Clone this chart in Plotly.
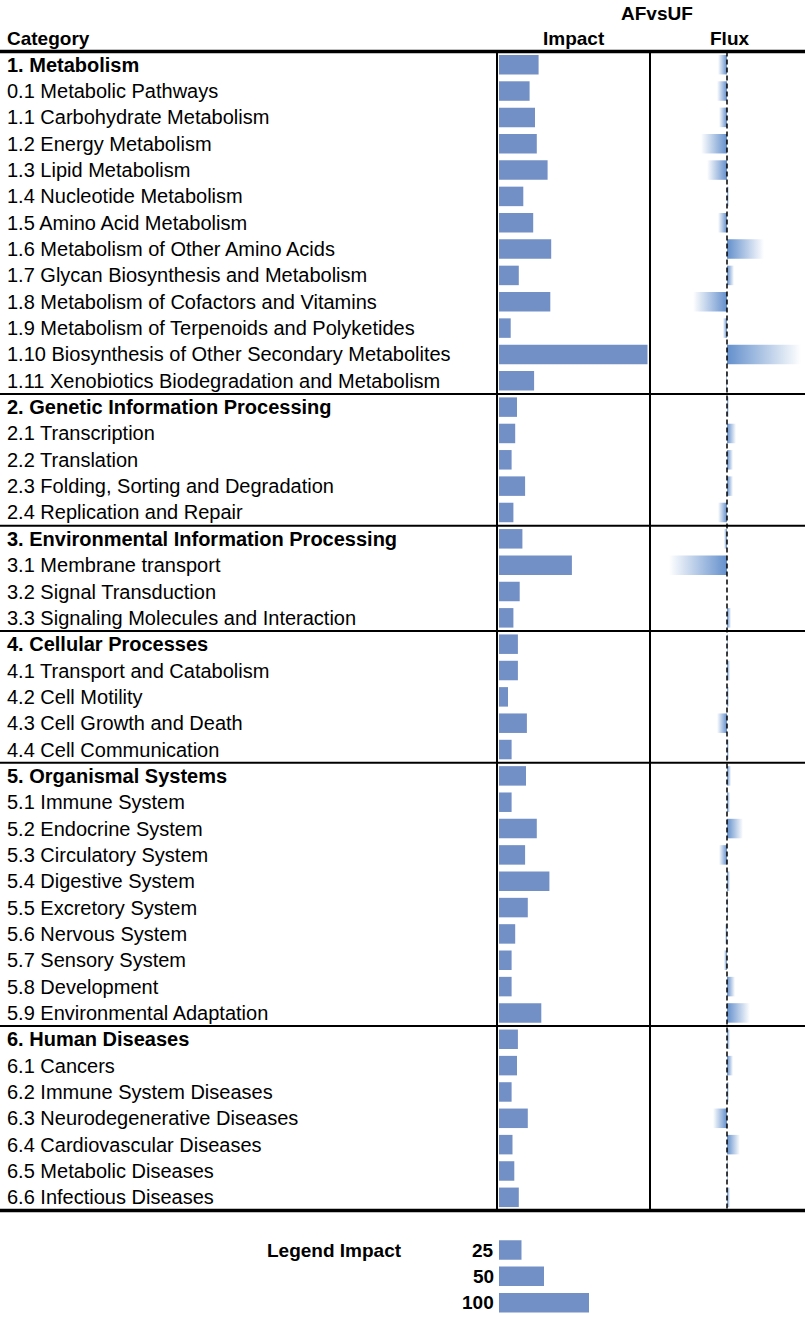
import re

import plotly.graph_objects as go

categories = [
    "1. Metabolism",
    "0.1 Metabolic Pathways",
    "1.1 Carbohydrate Metabolism",
    "1.2 Energy Metabolism",
    "1.3 Lipid Metabolism",
    "1.4 Nucleotide Metabolism",
    "1.5 Amino Acid Metabolism",
    "1.6 Metabolism of Other Amino Acids",
    "1.7 Glycan Biosynthesis and Metabolism",
    "1.8 Metabolism of Cofactors and Vitamins",
    "1.9 Metabolism of Terpenoids and Polyketides",
    "1.10 Biosynthesis of Other Secondary Metabolites",
    "1.11 Xenobiotics Biodegradation and Metabolism",
    "2. Genetic Information Processing",
    "2.1 Transcription",
    "2.2 Translation",
    "2.3 Folding, Sorting and Degradation",
    "2.4 Replication and Repair",
    "3. Environmental Information Processing",
    "3.1 Membrane transport",
    "3.2 Signal Transduction",
    "3.3 Signaling Molecules and Interaction",
    "4. Cellular Processes",
    "4.1 Transport and Catabolism",
    "4.2 Cell Motility",
    "4.3 Cell Growth and Death",
    "4.4 Cell Communication",
    "5. Organismal Systems",
    "5.1 Immune System",
    "5.2 Endocrine System",
    "5.3 Circulatory System",
    "5.4 Digestive System",
    "5.5 Excretory System",
    "5.6 Nervous System",
    "5.7 Sensory System",
    "5.8 Development",
    "5.9 Environmental Adaptation",
    "6. Human Diseases",
    "6.1 Cancers",
    "6.2 Immune System Diseases",
    "6.3 Neurodegenerative Diseases",
    "6.4 Cardiovascular Diseases",
    "6.5 Metabolic Diseases",
    "6.6 Infectious Diseases",
]

impact = [
    44, 34, 40, 42, 54, 27, 38, 58, 22, 57, 13, 165, 39,
    20, 18, 14, 29, 16,
    26, 81, 23, 16,
    21, 21, 10, 31, 14,
    30, 14, 42, 29, 56, 32, 18, 14, 14, 47,
    21, 20, 14, 32, 15, 17, 22,
]

flux = [
    -0.09, -0.10, -0.08, -0.26, -0.20, 0.02, -0.09, 0.37, 0.07, -0.34, -0.04, 0.74, -0.01,
    0.02, 0.09, 0.06, 0.06, -0.09,
    -0.03, -0.58, 0.00, 0.04,
    0.01, 0.03, 0.02, -0.10, 0.02,
    0.04, 0.03, 0.16, -0.08, 0.03, 0.01, -0.02, -0.03, 0.08, 0.23,
    0.03, 0.06, 0.02, -0.14, 0.13, 0.01, 0.03,
]

legend_sizes = [25, 50, 100]

# page geometry (px)
W, H = 805, 1318
ROW_PX = 26.34
TOP_PX = 64.7
IMPACT_X0 = 499
IMPACT_PX = 0.9
FLUX_X0 = 727
FLUX_PX = 100

IMPACT_BLUE = "#7290c6"
FLUX_BLUE = "#6490cc"
FONT = "Liberation Sans, Arial, sans-serif"
BAR_W = 0.74

rows = list(range(len(categories)))
legend_rows = [len(categories) + 1 + i for i in range(len(legend_sizes))]
groups = [i for i, c in enumerate(categories) if re.match(r"^\d\. ", c)]

fig = go.Figure()

fig.add_trace(go.Bar(
    x=impact, y=rows, orientation="h", width=BAR_W,
    marker=dict(color=IMPACT_BLUE, line_width=0),
    xaxis="x", yaxis="y", hoverinfo="x+y",
))
fig.add_trace(go.Bar(
    x=legend_sizes, y=legend_rows, orientation="h", width=BAR_W,
    marker=dict(color=IMPACT_BLUE, line_width=0),
    xaxis="x", yaxis="y", hoverinfo="x",
))

h = BAR_W / 2
for r, v in zip(rows, flux):
    if v == 0:
        continue
    if v < 0:
        scale = [[0, "#ffffff"], [1, FLUX_BLUE]]
    else:
        scale = [[0, FLUX_BLUE], [1, "#ffffff"]]
    fig.add_trace(go.Scatter(
        x=[0, v, v, 0, 0], y=[r - h, r - h, r + h, r + h, r - h],
        mode="lines", line=dict(width=0), fill="toself",
        fillgradient=dict(type="horizontal", colorscale=scale),
        xaxis="x2", yaxis="y", hoverinfo="skip",
    ))

annotations = []
for r, c in zip(rows, categories):
    bold = r in groups
    annotations.append(dict(
        x=5 / W, xref="paper", y=r, yref="y", text=f"<b>{c}</b>" if bold else c,
        xanchor="left", yanchor="middle", showarrow=False,
        font=dict(family=FONT, size=20, color="black"),
    ))

hdr = dict(family=FONT, size=19, color="black")
annotations += [
    dict(x=5 / W, xref="paper", y=-1.0, yref="y", text="<b>Category</b>",
         xanchor="left", yanchor="middle", showarrow=False, font=hdr),
    dict(x=574 / W, xref="paper", y=-1.0, yref="y", text="<b>Impact</b>",
         xanchor="center", yanchor="middle", showarrow=False, font=hdr),
    dict(x=729 / W, xref="paper", y=-1.0, yref="y", text="<b>Flux</b>",
         xanchor="center", yanchor="middle", showarrow=False, font=hdr),
    dict(x=657 / W, xref="paper", y=-1.96, yref="y", text="<b>AFvsUF</b>",
         xanchor="center", yanchor="middle", showarrow=False, font=hdr),
    dict(x=265 / W, xref="paper", y=legend_rows[0], yref="y", text="<b>Legend Impact</b>",
         xanchor="left", yanchor="middle", showarrow=False, font=hdr),
]
for r, s in zip(legend_rows, legend_sizes):
    annotations.append(dict(
        x=496 / W, xref="paper", y=r, yref="y", text=f"<b>{s}</b>",
        xanchor="right", yanchor="middle", showarrow=False, font=hdr,
    ))

y_first = rows[0] - 0.5
y_last = rows[-1] + 0.5
shapes = [
    dict(type="line", xref="paper", yref="y", x0=0, x1=1, y0=y_first, y1=y_first,
         line=dict(color="black", width=3.5)),
    dict(type="line", xref="paper", yref="y", x0=0, x1=1, y0=y_last, y1=y_last,
         line=dict(color="black", width=3.5)),
    dict(type="line", xref="paper", yref="y", x0=497 / W, x1=497 / W, y0=y_first, y1=y_last,
         line=dict(color="black", width=2)),
    dict(type="line", xref="paper", yref="y", x0=650 / W, x1=650 / W, y0=y_first, y1=y_last,
         line=dict(color="black", width=2)),
    dict(type="line", xref="x2", yref="y", x0=0, x1=0, y0=y_first, y1=y_last,
         line=dict(color="black", width=1.5, dash="5px,3px")),
]
for g in groups[1:]:
    shapes.append(dict(type="line", xref="paper", yref="y", x0=0, x1=1, y0=g - 0.5, y1=g - 0.5,
                       line=dict(color="black", width=2)))

fig.update_layout(
    width=W, height=H,
    margin=dict(l=0, r=0, t=0, b=0),
    paper_bgcolor="white", plot_bgcolor="white",
    showlegend=False,
    xaxis=dict(domain=[0, 1], range=[-IMPACT_X0 / IMPACT_PX, (W - IMPACT_X0) / IMPACT_PX],
               visible=False, fixedrange=True),
    xaxis2=dict(domain=[0, 1], range=[-FLUX_X0 / FLUX_PX, (W - FLUX_X0) / FLUX_PX],
                overlaying="x", anchor="y", visible=False, fixedrange=True),
    yaxis=dict(range=[(H - TOP_PX) / ROW_PX, -TOP_PX / ROW_PX], visible=False, fixedrange=True),
    annotations=annotations,
    shapes=shapes,
)

# drop the default page margin so the figure sits at the window's top-left corner
fig.write_html(
    "out.html",
    config={"displayModeBar": False},
    post_script="document.body.style.margin='0';document.body.style.overflow='hidden';",
)
